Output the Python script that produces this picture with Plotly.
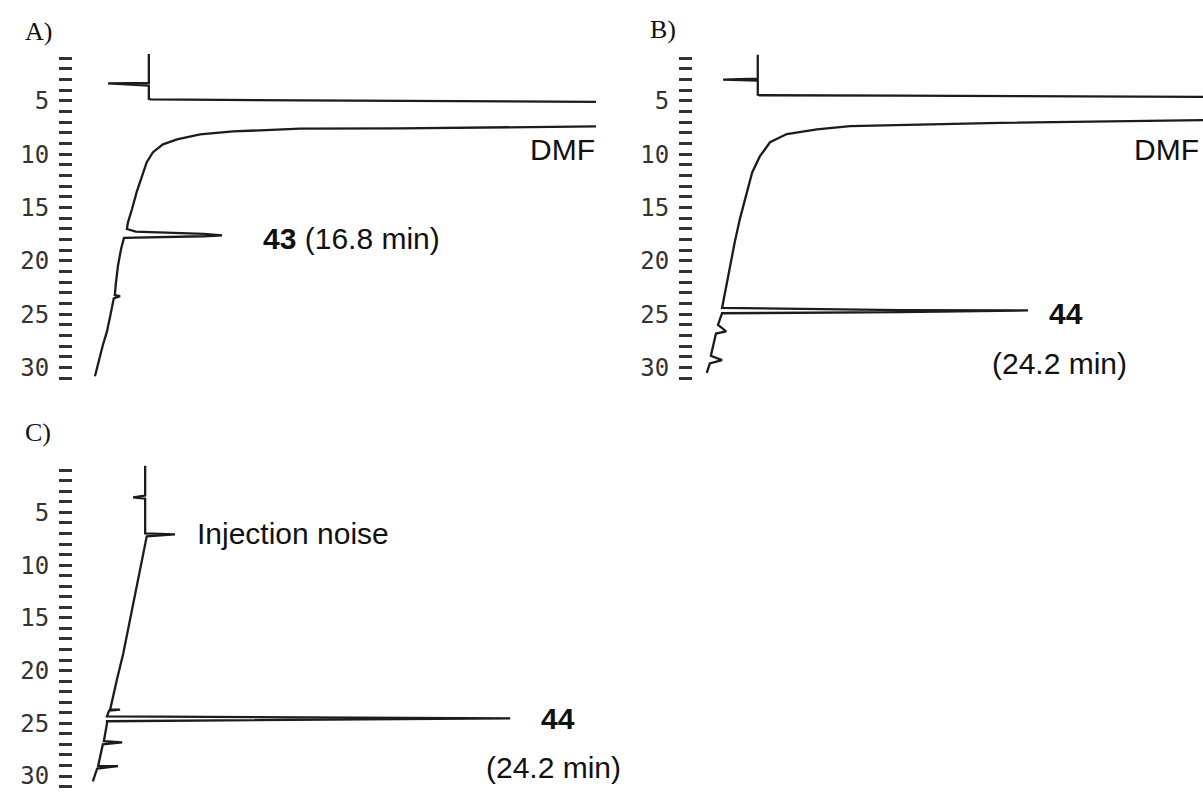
import plotly.graph_objects as go

W, H = 1203, 794

# ---------------- data (signal in arbitrary units, time in min) ----------------
# Panel A
a_signal = [14.5, 14.5, 6.7, 14.5, 14.5, 14.9, 43.4, 72.1, 100, 110, 110, 100, 62.5, 43.4,
            30.6, 24.3, 19.9, 17.2, 15.3, 14.1, 13.2, 12.2, 11.3, 10.5, 10.3, 12.0, 25.0, 28.5,
            25.0, 12.0, 9.75, 9.2, 8.6, 8.2, 8.0, 9.0, 7.8, 7.1, 6.5, 5.7, 5.2, 4.2]
a_time = [0.6, 3.3, 3.35, 3.55, 4.8, 4.85, 4.95, 5.0, 5.1, 5.1, 7.3, 7.38, 7.57, 7.6,
          7.85, 8.13, 8.6, 9.06, 9.8, 10.74, 12.04, 13.5, 15.1, 16.4, 17.0, 17.25, 17.45, 17.6,
          17.68, 17.78, 17.83, 18.85, 20.44, 22.1, 23.2, 23.3, 23.5, 25.2, 26.6, 27.9, 28.8, 30.8]

# Panel B
b_signal = [12.7, 12.7, 5.9, 12.7, 12.7, 13.1, 40.6, 100, 110, 110, 100, 60.2, 30.8, 24.3,
            18.4, 15.1, 13.1, 11.6, 10.2, 9.2, 8.2, 7.3, 6.3, 5.7, 40.6, 65.7, 40.6, 5.7, 4.9,
            6.5, 4.5, 3.9, 3.5, 5.7, 3.3, 2.7]
b_time = [0.66, 2.9, 3.0, 3.09, 4.4, 4.46, 4.5, 4.63, 4.63, 6.8, 6.8, 7.05, 7.35, 7.66,
          8.1, 8.87, 10.2, 11.7, 14.2, 16.05, 18.2, 20.4, 22.9, 24.4, 24.6, 24.64, 24.8, 24.9,
          26.0, 26.6, 26.8, 28.1, 28.9, 29.3, 29.6, 30.5]

# Panel C
c_signal = [13.8, 13.8, 11.5, 13.8, 13.8, 19.5, 14.1, 13.4, 12.2, 10.9, 9.6, 8.4, 7.1,
            9.0, 6.9, 6.5, 83.6, 6.5, 6.5, 5.9, 9.4, 5.7, 5.2, 4.8, 8.6, 4.6, 3.8]
c_time = [0.57, 3.4, 3.58, 3.7, 6.98, 7.08, 7.26, 8.96, 12.08, 15.2, 18.4, 20.85, 23.7,
          23.7, 23.8, 24.34, 24.53, 24.8, 25.0, 26.7, 26.8, 27.0, 28.1, 29.06, 29.06, 29.3, 30.5]

tick_vals = [5, 10, 15, 20, 25, 30]
tick_text = ["5", "10", "15", "20", "25", "30"]
time_range = [31, 0.5]
signal_range = [0, 100]

# ---------------- layout helpers ----------------
def xdom(l, r):
    return [l / W, r / W]

def ydom(top, bottom):
    return [1 - bottom / H, 1 - top / H]

LINE = dict(color="#1c1c1c", width=2.3)

fig = go.Figure()
fig.add_trace(go.Scatter(x=a_signal, y=a_time, mode="lines", line=LINE, xaxis="x", yaxis="y",
                         showlegend=False, hoverinfo="skip"))
fig.add_trace(go.Scatter(x=b_signal, y=b_time, mode="lines", line=LINE, xaxis="x2", yaxis="y2",
                         showlegend=False, hoverinfo="skip"))
fig.add_trace(go.Scatter(x=c_signal, y=c_time, mode="lines", line=LINE, xaxis="x3", yaxis="y3",
                         showlegend=False, hoverinfo="skip"))

def yaxis_cfg(domain, anchor):
    return dict(
        domain=domain, anchor=anchor, range=time_range,
        tickvals=tick_vals, ticktext=tick_text,
        ticks="outside", ticklen=13, tickwidth=2.5, tickcolor="#333",
        minor=dict(dtick=1, tick0=0, ticks="outside", ticklen=13, tickwidth=2.5, tickcolor="#333"),
        showline=False, showgrid=False, zeroline=False,
        tickfont=dict(family="DejaVu Sans Mono", size=24, color="#333"),
        ticklabelstandoff=5,
    )

def xaxis_cfg(domain, anchor):
    return dict(domain=domain, anchor=anchor, range=signal_range, visible=False,
                showgrid=False, zeroline=False)

# pixel geometry
A_TOP, A_BOT = 101.5 - 4.5 * 10.72, 101.5 + 26 * 10.72
C_TOP, C_BOT = 515 - 4.5 * 10.6, 515 + 26 * 10.6

fig.update_layout(
    width=W, height=H, margin=dict(l=0, r=0, t=0, b=0),
    paper_bgcolor="white", plot_bgcolor="white",
    xaxis=xaxis_cfg(xdom(73, 596), "y"),
    yaxis=yaxis_cfg(ydom(A_TOP, A_BOT), "x"),
    xaxis2=xaxis_cfg(xdom(693, 1203), "y2"),
    yaxis2=yaxis_cfg(ydom(A_TOP, A_BOT), "x2"),
    xaxis3=xaxis_cfg(xdom(73, 596), "y3"),
    yaxis3=yaxis_cfg(ydom(C_TOP, C_BOT), "x3"),
)

def ann(text, px, py, xanchor="left", size=30, family="Liberation Sans, Arial, sans-serif"):
    fig.add_annotation(text=text, x=px / W, y=1 - py / H, xref="paper", yref="paper",
                       xanchor=xanchor, yanchor="middle", showarrow=False,
                       font=dict(family=family, size=size, color="#111"))

serif = "Liberation Serif, Times New Roman, serif"
ann("A)", 23, 32, size=26, family=serif)
ann("B)", 648, 30, size=26, family=serif)
ann("C)", 23, 435, size=26, family=serif)
ann("DMF", 597, 150, xanchor="right")
ann("DMF", 1201, 150, xanchor="right")
ann("<b>43</b> (16.8 min)", 261, 240)
ann("<b>44</b>", 1047, 315)
ann("(24.2 min)", 990, 365)
ann("Injection noise", 195, 536)
ann("<b>44</b>", 539, 722)
ann("(24.2 min)", 484, 771)

fig.write_html("out.html", config={"displayModeBar": False},
               post_script="document.body.style.margin='0';")
